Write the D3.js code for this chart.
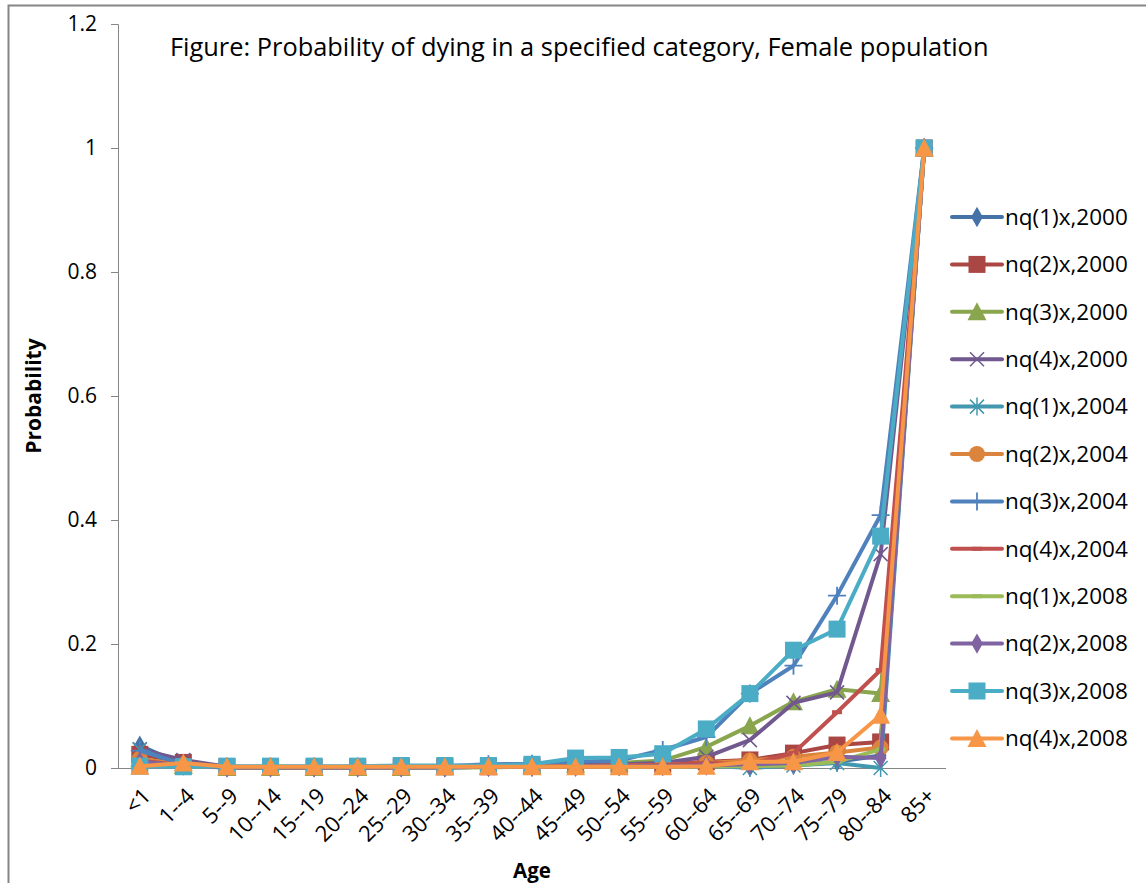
<!DOCTYPE html>
<html>
<head>
<meta charset="utf-8">
<script src="https://cdn.jsdelivr.net/npm/d3@7"></script>
<style>
  body { margin: 0; background: #fff; }
  text { font-family: "Open Sans", sans-serif; fill: #000; }
</style>
</head>
<body>
<svg width="1146" height="883"></svg>
<script>
// age groups on the x axis
var ageGroups = ["<1", "1--4", "5--9", "10--14", "15--19", "20--24", "25--29", "30--34", "35--39",
    "40--44", "45--49", "50--54", "55--59", "60--64", "65--69", "70--74", "75--79", "80--84", "85+"];

var yTicks = [0, 0.2, 0.4, 0.6, 0.8, 1, 1.2];

// probability of dying
var nq1_2000 = [0.036, 0.005, 0.001, 0.001, 0.001, 0.001, 0.001, 0.001, 0.002, 0.002, 0.003, 0.003, 0.004, 0.006, 0.002, 0.005, 0.010, 0.020, 1];
var nq2_2000 = [0.022, 0.009, 0.002, 0.001, 0.001, 0.001, 0.002, 0.002, 0.002, 0.003, 0.004, 0.005, 0.006, 0.010, 0.013, 0.024, 0.037, 0.042, 1];
var nq3_2000 = [0.015, 0.004, 0.001, 0.001, 0.001, 0.001, 0.001, 0.002, 0.003, 0.004, 0.006, 0.008, 0.012, 0.034, 0.068, 0.107, 0.127, 0.120, 1];
var nq4_2000 = [0.030, 0.013, 0.002, 0.001, 0.001, 0.002, 0.002, 0.002, 0.003, 0.004, 0.005, 0.006, 0.008, 0.018, 0.045, 0.105, 0.122, 0.345, 1];
var nq1_2004 = [0.030, 0.004, 0.001, 0.001, 0.001, 0.001, 0.001, 0.001, 0.002, 0.002, 0.003, 0.003, 0.003, 0.004, 0.000, 0.004, 0.008, 0.000, 1];
var nq2_2004 = [0.015, 0.005, 0.001, 0.001, 0.001, 0.001, 0.001, 0.002, 0.002, 0.003, 0.003, 0.004, 0.005, 0.008, 0.012, 0.018, 0.025, 0.033, 1];
var nq3_2004 = [0.028, 0.006, 0.002, 0.002, 0.002, 0.002, 0.003, 0.003, 0.006, 0.007, 0.010, 0.012, 0.029, 0.050, 0.120, 0.165, 0.278, 0.408, 1];
var nq4_2004 = [0.012, 0.004, 0.001, 0.001, 0.001, 0.001, 0.001, 0.002, 0.002, 0.003, 0.003, 0.004, 0.005, 0.008, 0.006, 0.024, 0.090, 0.158, 1];
var nq1_2008 = [0.008, 0.003, 0.001, 0.001, 0.001, 0.001, 0.001, 0.001, 0.001, 0.002, 0.002, 0.002, 0.002, 0.003, 0.003, 0.004, 0.010, 0.030, 1];
var nq2_2008 = [0.010, 0.004, 0.001, 0.001, 0.001, 0.001, 0.001, 0.001, 0.002, 0.002, 0.002, 0.003, 0.003, 0.004, 0.006, 0.008, 0.018, 0.016, 1];
var nq3_2008 = [0.003, 0.002, 0.003, 0.003, 0.003, 0.003, 0.004, 0.004, 0.004, 0.006, 0.016, 0.017, 0.023, 0.063, 0.120, 0.190, 0.224, 0.374, 1];
var nq4_2008 = [0.003, 0.008, 0.002, 0.002, 0.002, 0.002, 0.002, 0.002, 0.002, 0.002, 0.002, 0.002, 0.002, 0.003, 0.010, 0.010, 0.025, 0.085, 1];

var seriesNames = ["nq(1)x,2000", "nq(2)x,2000", "nq(3)x,2000", "nq(4)x,2000",
    "nq(1)x,2004", "nq(2)x,2004", "nq(3)x,2004", "nq(4)x,2004",
    "nq(1)x,2008", "nq(2)x,2008", "nq(3)x,2008", "nq(4)x,2008"];
var seriesValues = [nq1_2000, nq2_2000, nq3_2000, nq4_2000, nq1_2004, nq2_2004, nq3_2004, nq4_2004,
    nq1_2008, nq2_2008, nq3_2008, nq4_2008];
var seriesColors = ["#4572a7", "#aa4643", "#89a54e", "#71588f", "#4198af", "#db843d",
    "#4f81bd", "#c0504d", "#9bbb59", "#8064a2", "#4bacc6", "#f79646"];
var seriesMarkers = ["diamond", "square", "triangle", "x", "star", "circle",
    "plus", "dash", "dash", "diamond", "square", "triangle"];

var svg = d3.select("svg"),
    width = +svg.attr("width"),
    height = +svg.attr("height");

var plot = { left: 118, right: 946, top: 24, bottom: 768 };

// chart frame
svg.append("rect")
    .attr("x", 8.5).attr("y", 5.5)
    .attr("width", 1150).attr("height", 900)
    .attr("fill", "none")
    .attr("stroke", "#868686")
    .attr("stroke-width", 2);

var x = d3.scalePoint().domain(ageGroups).range([plot.left, plot.right]).padding(0.5);
var y = d3.scaleLinear().domain([0, 1.2]).range([plot.bottom, plot.top]);

// y axis
var yAxis = svg.append("g")
    .attr("transform", "translate(" + plot.left + ",0)")
    .call(d3.axisLeft(y).tickValues(yTicks).tickSize(7).tickPadding(14).tickFormat(d3.format("")));
yAxis.selectAll("path, line").attr("stroke", "#868686");
yAxis.selectAll("text").style("font-size", "21px").style("font-family", "'Open Sans', sans-serif");

// x axis line only, labels drawn by hand for rotation
svg.append("line")
    .attr("x1", plot.left).attr("x2", plot.right)
    .attr("y1", plot.bottom + 0.5).attr("y2", plot.bottom + 0.5)
    .attr("stroke", "#868686");

svg.append("g").selectAll("text")
    .data(ageGroups)
    .enter().append("text")
    .attr("transform", function(d) { return "translate(" + (x(d) + 7) + "," + 792 + ") rotate(-45)"; })
    .attr("text-anchor", "end")
    .attr("dy", "0.35em")
    .style("font-size", "22px")
    .text(function(d) { return d; });

// axis titles
svg.append("text")
    .attr("x", (plot.left + plot.right) / 2).attr("y", 878)
    .attr("text-anchor", "middle")
    .style("font-size", "20.5px").style("font-weight", "bold")
    .text("Age");

svg.append("text")
    .attr("transform", "translate(41," + ((plot.top + plot.bottom) / 2) + ") rotate(-90)")
    .attr("text-anchor", "middle")
    .style("font-size", "21px").style("font-weight", "bold")
    .text("Probability");

// chart title
svg.append("text")
    .attr("x", 170).attr("y", 56)
    .style("font-size", "25.4px")
    .text("Figure: Probability of dying in a specified category, Female population");

// marker shapes
function drawMarker(g, type, color) {
    if (type === "diamond") {
        g.append("path").attr("d", d3.symbol(d3.symbolDiamond, 120)()).attr("fill", color);
    } else if (type === "square") {
        g.append("rect").attr("x", -8.5).attr("y", -8.5).attr("width", 17).attr("height", 17).attr("fill", color);
    } else if (type === "triangle") {
        g.append("path").attr("d", "M0,-9.5L9.5,8.5L-9.5,8.5Z").attr("fill", color);
    } else if (type === "circle") {
        g.append("circle").attr("r", 8).attr("fill", color);
    } else if (type === "x") {
        g.append("path").attr("d", "M-7,-7L7,7M-7,7L7,-7").attr("stroke", color).attr("stroke-width", 1.5);
    } else if (type === "star") {
        g.append("path").attr("d", "M-7,-7L7,7M-7,7L7,-7M0,-9L0,9").attr("stroke", color).attr("stroke-width", 1.5);
    } else if (type === "plus") {
        g.append("path").attr("d", "M-9,0L9,0M0,-9L0,9").attr("stroke", color).attr("stroke-width", 1.8);
    } else if (type === "dash") {
        g.append("path").attr("d", "M-5,0L5,0").attr("stroke", color).attr("stroke-width", 4);
    }
}

var line = d3.line()
    .x(function(d, i) { return x(ageGroups[i]); })
    .y(function(d) { return y(d); });

// series lines and markers
seriesValues.forEach(function(values, s) {
    var g = svg.append("g").attr("class", "series");
    g.append("path")
        .datum(values)
        .attr("d", line)
        .attr("fill", "none")
        .attr("stroke", seriesColors[s])
        .attr("stroke-width", 4)
        .attr("stroke-linejoin", "round")
        .attr("stroke-linecap", "round");
    values.forEach(function(v, i) {
        var m = g.append("g").attr("transform", "translate(" + x(ageGroups[i]) + "," + y(v) + ")");
        drawMarker(m, seriesMarkers[s], seriesColors[s]);
    });
});

// legend
var legend = svg.append("g").selectAll("g")
    .data(seriesNames)
    .enter().append("g")
    .attr("transform", function(d, i) { return "translate(952," + (217 + i * 47.4) + ")"; });

legend.append("line")
    .attr("x1", 0).attr("x2", 50)
    .attr("stroke", function(d, i) { return seriesColors[i]; })
    .attr("stroke-width", 4)
    .attr("stroke-linecap", "round");

legend.each(function(d, i) {
    var m = d3.select(this).append("g").attr("transform", "translate(25,0)");
    drawMarker(m, seriesMarkers[i], seriesColors[i]);
});

legend.append("text")
    .attr("x", 53).attr("dy", "0.35em")
    .style("font-size", "22.5px")
    .text(function(d) { return d; });
</script>
</body>
</html>
